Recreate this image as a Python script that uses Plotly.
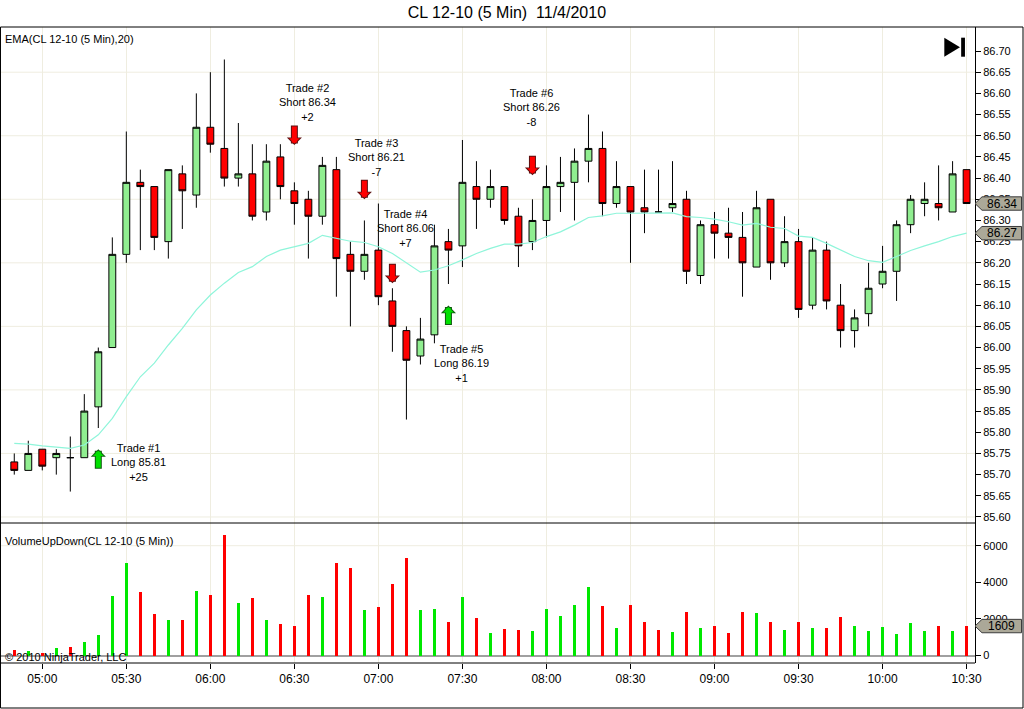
import plotly.graph_objects as go
import pandas as pd
import numpy as np

# 5-minute bars, CL 12-10, 11/4/2010
times = pd.date_range("2010-11-04 04:50", periods=69, freq="5min")

opens = [85.73, 85.71, 85.76, 85.74, 85.74, 85.74, 85.86, 86.00, 86.22, 86.39,
         86.38, 86.25, 86.41, 86.36, 86.52, 86.47, 86.40, 86.41, 86.32, 86.45,
         86.37, 86.35, 86.31, 86.42, 86.22, 86.18, 86.23, 86.11, 86.04, 85.98,
         86.03, 86.25, 86.24, 86.38, 86.35, 86.38, 86.31, 86.25, 86.30, 86.38,
         86.39, 86.44, 86.47, 86.34, 86.38, 86.33, 86.32, 86.33, 86.35, 86.17,
         86.29, 86.27, 86.26, 86.19, 86.35, 86.20, 86.25, 86.10, 86.23, 86.10,
         86.04, 86.08, 86.15, 86.18, 86.29, 86.34, 86.34, 86.32, 86.42]
highs = [85.75, 85.78, 85.76, 85.76, 85.79, 85.89, 86.00, 86.26, 86.51, 86.42,
         86.38, 86.42, 86.43, 86.60, 86.65, 86.68, 86.53, 86.48, 86.48, 86.48,
         86.39, 86.37, 86.45, 86.45, 86.25, 86.30, 86.34, 86.14, 86.05, 86.07,
         86.29, 86.28, 86.49, 86.44, 86.42, 86.38, 86.33, 86.35, 86.43, 86.45,
         86.47, 86.55, 86.51, 86.44, 86.38, 86.42, 86.42, 86.44, 86.37, 86.30,
         86.32, 86.33, 86.32, 86.37, 86.35, 86.31, 86.28, 86.26, 86.25, 86.15,
         86.09, 86.20, 86.24, 86.30, 86.36, 86.39, 86.43, 86.44, 86.42]
lows = [85.70, 85.71, 85.71, 85.70, 85.66, 85.74, 85.81, 86.00, 86.20, 86.23,
        86.23, 86.21, 86.28, 86.33, 86.46, 86.38, 86.38, 86.30, 86.30, 86.35,
        86.29, 86.21, 86.29, 86.12, 86.05, 86.16, 86.10, 85.99, 85.83, 85.96,
        86.01, 86.15, 86.19, 86.28, 86.33, 86.29, 86.19, 86.23, 86.26, 86.32,
        86.30, 86.39, 86.31, 86.33, 86.20, 86.27, 86.32, 86.32, 86.15, 86.15,
        86.21, 86.21, 86.12, 86.19, 86.16, 86.19, 86.07, 86.09, 86.09, 86.00,
        86.00, 86.05, 86.14, 86.11, 86.27, 86.31, 86.30, 86.32, 86.34]
closes = [85.71, 85.75, 85.72, 85.75, 85.74, 85.85, 85.99, 86.22, 86.39, 86.38,
          86.26, 86.42, 86.37, 86.52, 86.48, 86.40, 86.41, 86.31, 86.44, 86.38,
          86.34, 86.31, 86.43, 86.21, 86.18, 86.22, 86.12, 86.05, 85.97, 86.02,
          86.24, 86.23, 86.39, 86.35, 86.38, 86.30, 86.24, 86.30, 86.38, 86.39,
          86.44, 86.47, 86.34, 86.38, 86.32, 86.32, 86.32, 86.34, 86.18, 86.29,
          86.27, 86.26, 86.20, 86.33, 86.20, 86.25, 86.09, 86.23, 86.11, 86.04,
          86.07, 86.14, 86.18, 86.29, 86.35, 86.35, 86.33, 86.41, 86.34]

ema20 = [85.774, 85.772, 85.768, 85.765, 85.762, 85.770, 85.794, 85.833, 85.884, 85.931,
         85.963, 86.006, 86.045, 86.089, 86.124, 86.152, 86.177, 86.191, 86.215, 86.230,
         86.238, 86.246, 86.265, 86.258, 86.251, 86.248, 86.238, 86.222, 86.199, 86.178,
         86.183, 86.193, 86.207, 86.222, 86.234, 86.244, 86.244, 86.248, 86.262, 86.273,
         86.289, 86.307, 86.311, 86.317, 86.317, 86.317, 86.317, 86.318, 86.309, 86.307,
         86.303, 86.297, 86.289, 86.293, 86.284, 86.281, 86.263, 86.260, 86.246, 86.230,
         86.215, 86.205, 86.201, 86.215, 86.229, 86.240, 86.250, 86.262, 86.270]

volume = [300, 240, 150, 420, 480, 735, 1120, 3270, 5050, 3490,
          2280, 1950, 1950, 3545, 3325, 6575, 2885, 3160, 1950, 1727,
          1617, 3325, 3215, 5070, 4760, 2470, 2635, 3890, 5305, 2470,
          2525, 1815, 3180, 2035, 1215, 1435, 1380, 1325, 2525, 2145,
          2745, 3725, 2690, 1490, 2745, 1815, 1380, 1290, 2380, 1510,
          1615, 1235, 2380, 2325, 1835, 1400, 1835, 1510, 1510, 2105,
          1615, 1345, 1560, 1180, 1780, 1345, 1615, 1345, 1609]

price_ticks = [round(85.60 + 0.05 * k, 2) for k in range(23)]
volume_ticks = [0, 2000, 4000, 6000]

# trades (bar index, side, entry, result, level of the arrow tip)
trade_bars = [6, 20, 25, 27, 31, 37]
trade_sides = ["Long", "Short", "Short", "Short", "Long", "Short"]
trade_prices = [85.81, 86.34, 86.21, 86.06, 86.19, 86.26]
trade_pnl = ["+25", "+2", "-7", "+7", "+1", "-8"]
arrow_levels = [85.760, 86.478, 86.350, 86.152, 86.099, 86.407]
label_offsets = [(40, -13), (13, 43), (12, 42), (13, 55), (13, -58), (-1, 68)]

FONT = "Liberation Sans, Arial, sans-serif"
GRID = "#EFEDE0"
PRICE_RANGE = [85.5858, 86.7567]
VOL_RANGE = [-410, 7240]
PRICE_PX = 496 / (PRICE_RANGE[1] - PRICE_RANGE[0])   # pixels per price unit
VOL_PX = 140 / (VOL_RANGE[1] - VOL_RANGE[0])
x_range = [times[0] - pd.Timedelta(seconds=306), times[0] + pd.Timedelta(minutes=343)]

fig = go.Figure()

fig.add_trace(go.Candlestick(
    x=times, open=opens, high=highs, low=lows, close=closes,
    increasing=dict(fillcolor="#90EE90", line=dict(color="black", width=1)),
    decreasing=dict(fillcolor="#FF0000", line=dict(color="black", width=1)),
    whiskerwidth=0, xaxis="x", yaxis="y", showlegend=False))

fig.add_trace(go.Scatter(x=times, y=ema20, mode="lines",
                         line=dict(color="#8FF5DA", width=1.2),
                         xaxis="x", yaxis="y", showlegend=False))

vol_colors = ["#00E800" if c > o else "#FF0000" for o, c in zip(opens, closes)]
fig.add_trace(go.Bar(x=times, y=volume, marker=dict(color=vol_colors, line=dict(width=0)),
                     width=52000, xaxis="x2", yaxis="y2", showlegend=False))

# trade arrows (dark outline underneath, coloured arrow on top) + labels
for n, (b, side, px, pnl, lvl, (dx, dy)) in enumerate(zip(
        trade_bars, trade_sides, trade_prices, trade_pnl, arrow_levels, label_offsets), 1):
    is_long = side == "Long"
    sign = 1 if is_long else -1
    fig.add_annotation(x=times[b], y=lvl, xref="x", yref="y", text="",
                       showarrow=True, ax=0, ay=21 * sign, arrowhead=1,
                       arrowsize=0.36, arrowwidth=7, standoff=0,
                       arrowcolor="#105A10" if is_long else "#5A1010")
    fig.add_annotation(x=times[b], y=lvl, xref="x", yref="y", text="",
                       showarrow=True, ax=0, ay=20 * sign, arrowhead=1,
                       arrowsize=0.36, arrowwidth=5, standoff=1.5,
                       arrowcolor="#00E000" if is_long else "#FF0000")
    fig.add_annotation(x=times[b], y=lvl, xref="x", yref="y",
                       text=f"Trade #{n}<br>{side} {px:.2f}<br>{pnl}",
                       showarrow=False, xshift=dx, yshift=dy,
                       font=dict(family=FONT, size=11, color="black"))

# panel labels
for txt, ypos in [("EMA(CL 12-10 (5 Min),20)", (663 - 39) / 636),
                  ("VolumeUpDown(CL 12-10 (5 Min))", (663 - 541) / 636),
                  ("© 2010 NinjaTrader, LLC", (663 - 657) / 636)]:
    fig.add_annotation(x=0.003, y=ypos, xref="paper", yref="paper", xanchor="left",
                       yanchor="middle", text=txt, showarrow=False,
                       font=dict(family=FONT, size=11, color="black"))

shapes = []


def value_tag(value, yref, px_per_unit, label):
    # pentagon tag on the right axis pointing at the last value
    h = 6.7 / px_per_unit
    x0, x1, x2 = 1.0, 982 / 975, 1021.5 / 975
    shapes.append(dict(type="path", xref="paper", yref=yref, layer="above",
                       path=f"M {x0} {value} L {x1} {value + h} L {x2} {value + h} "
                            f"L {x2} {value - h} L {x1} {value - h} Z",
                       fillcolor="#ABA898", line=dict(color="#3C3C3C", width=1)))
    fig.add_annotation(x=(x1 + x2) / 2, y=value, xref="paper", yref=yref, text=label,
                       showarrow=False, xanchor="center", yanchor="middle",
                       font=dict(family=FONT, size=12, color="black"))


value_tag(closes[-1], "y", PRICE_PX, f"{closes[-1]:.2f}")
value_tag(ema20[-1], "y", PRICE_PX, f"{ema20[-1]:.2f}")
value_tag(volume[-1], "y2", VOL_PX, f"{volume[-1]}")

# price gridlines every 0.15
for lvl in np.arange(85.60, 86.70, 0.15):
    shapes.append(dict(type="line", xref="paper", yref="y", x0=0, x1=1, y0=lvl, y1=lvl,
                       line=dict(color=GRID, width=1), layer="below"))
shapes.append(dict(type="line", xref="paper", yref="y2", x0=0, x1=1, y0=6000, y1=6000,
                   line=dict(color=GRID, width=1), layer="below"))
# frame
shapes.append(dict(type="rect", xref="paper", yref="paper", x0=0.0005, x1=1023 / 975,
                   y0=(663 - 708) / 636, y1=1, line=dict(color="black", width=1)))
shapes.append(dict(type="line", xref="paper", yref="paper", x0=0, x1=1, y0=140 / 636, y1=140 / 636,
                   line=dict(color="black", width=1)))
shapes.append(dict(type="line", xref="paper", yref="paper", x0=0, x1=1, y0=0, y1=0,
                   line=dict(color="black", width=1)))
# "go to end" icon
shapes.append(dict(type="path", xref="paper", yref="paper",
                   path="M 0.9685 0.9832 L 0.9846 0.9682 L 0.9685 0.9533 Z",
                   fillcolor="black", line=dict(width=0)))
shapes.append(dict(type="rect", xref="paper", yref="paper", x0=0.9858, x1=0.9897,
                   y0=0.9533, y1=0.9832, fillcolor="black", line=dict(width=0)))

axis_x = dict(type="date", range=x_range, showgrid=True, gridcolor=GRID, automargin=False,
              dtick=1800000, tick0="2010-11-04 05:00", zeroline=False)

fig.update_layout(
    width=1024, height=709,
    margin=dict(l=0, r=49, t=27, b=46),
    paper_bgcolor="white", plot_bgcolor="white",
    title=dict(text="CL 12-10 (5 Min)  11/4/2010", x=0.495, y=0.983, xanchor="center",
               yanchor="middle", font=dict(family=FONT, size=16, color="black")),
    font=dict(family=FONT, size=11, color="black"),
    showlegend=False, bargap=0,
    xaxis=dict(axis_x, anchor="y", matches="x2", showticklabels=False, ticks="",
               rangeslider=dict(visible=False)),
    xaxis2=dict(axis_x, anchor="y2", ticks="outside", ticklen=5, tickcolor="black",
                tickformat="%H:%M", tickfont=dict(family=FONT, size=12)),
    yaxis=dict(domain=[140 / 636, 1], side="right", range=PRICE_RANGE,
               tickvals=price_ticks, tickformat=".2f", ticks="outside", ticklen=5,
               tickcolor="black", showline=True, linecolor="black", showgrid=False,
               zeroline=False, automargin=False, tickfont=dict(family=FONT, size=11)),
    yaxis2=dict(domain=[0, 140 / 636], side="right", range=VOL_RANGE,
                tickvals=volume_ticks, ticks="outside", ticklen=5, tickcolor="black",
                showline=True, linecolor="black", showgrid=False, zeroline=True,
                zerolinecolor="#A0A0A0", zerolinewidth=2, automargin=False,
                tickfont=dict(family=FONT, size=11)),
    shapes=shapes,
)

# page body has a default 8px margin; drop it so the figure fills the window
fig.write_html("out.html", config={"displayModeBar": False},
               post_script="document.body.style.margin='0';")
